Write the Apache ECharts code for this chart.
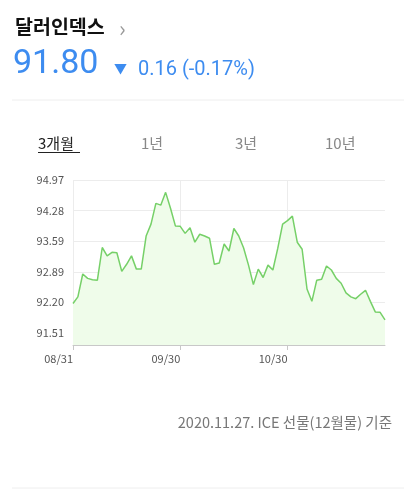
<!DOCTYPE html>
<html>
<head>
<meta charset="utf-8">
<script src="https://cdn.jsdelivr.net/npm/echarts@6/dist/echarts.min.js"></script>
<style>
html,body{margin:0;padding:0;background:#fff;}
#c{width:404px;height:495px;}
</style>
</head>
<body>
<div id="c"></div>
<script>
var dates = ['08/31','09/01','09/02','09/03','09/04','09/07','09/08','09/09','09/10','09/11',
  '09/14','09/15','09/16','09/17','09/18','09/21','09/22','09/23','09/24','09/25',
  '09/28','09/29','09/30','10/01','10/02','10/05','10/06','10/07','10/08','10/09',
  '10/12','10/13','10/14','10/15','10/16','10/19','10/20','10/21','10/22','10/23',
  '10/26','10/27','10/28','10/29','10/30','11/02','11/03','11/04','11/05','11/06',
  '11/09','11/10','11/11','11/12','11/13','11/16','11/17','11/18','11/19','11/20',
  '11/23','11/24','11/25','11/26','11/27'];
var values = [92.17,92.32,92.84,92.74,92.71,92.70,93.44,93.25,93.33,93.32,
  92.90,93.06,93.25,92.95,92.95,93.70,93.97,94.44,94.40,94.69,
  94.33,93.93,93.92,93.76,93.89,93.56,93.74,93.70,93.65,93.06,
  93.09,93.52,93.36,93.87,93.70,93.43,93.04,92.60,92.95,92.76,
  93.04,92.93,93.42,93.97,94.05,94.15,93.56,93.40,92.50,92.22,
  92.70,92.72,93.02,92.93,92.74,92.63,92.41,92.32,92.28,92.38,
  92.47,92.22,91.98,91.97,91.80];
var yTicks = [91.51,92.20,92.89,93.59,94.28,94.97];
var xLabels = ['08/31','09/30','10/30'];
var tabs = ['3개월','1년','3년','10년'];

var chart = echarts.init(document.getElementById('c'), null, {renderer:'canvas'});
function showX(i, v){ return xLabels.indexOf(v) >= 0; }
var kr = "'Noto Sans CJK KR', 'Noto Sans', sans-serif";
var tabX = [38,141,235,325];
var tabEls = tabs.map(function(t,i){
  return {type:'text', left:tabX[i], top:136, style:{text:t, font:'15px '+kr, fill: i===0?'#222':'#888'}};
});
chart.setOption({
  animation:false,
  grid:{left:73, right:19, top:180, bottom:150, containLabel:false},
  xAxis:{
    type:'category', data:dates, boundaryGap:false,
    axisLine:{lineStyle:{color:'#c8c8c8'}},
    axisTick:{show:true, interval:showX, length:5, lineStyle:{color:'#c8c8c8'}},
    axisLabel:{interval:showX, align:'right', margin:8, color:'#555', fontSize:11, fontFamily:kr},
    splitLine:{show:true, interval:showX, lineStyle:{color:'#ececec'}}
  },
  yAxis:{
    type:'value', min:91.23, max:94.97, scale:true,
    axisLine:{show:false},
    axisTick:{show:false, customValues:yTicks},
    axisLabel:{customValues:yTicks, color:'#555', fontSize:11, margin:9, fontFamily:kr,
      formatter:function(v){return v.toFixed(2);}},
    splitLine:{show:true, lineStyle:{color:'#ececec'}}
  },
  series:[{
    type:'line', data:values, showSymbol:false, smooth:false,
    lineStyle:{color:'#76d068', width:1.5},
    areaStyle:{color:'#effcea', origin:'start', opacity:1}
  }],
  graphic:[
    {type:'text', left:15, top:17, style:{text:'달러인덱스', font:'bold 19.5px '+kr, fill:'#111'}},
    {type:'text', left:119, top:18, style:{text:'›', font:'22px '+kr, fill:'#999'}},
    {type:'text', left:13, top:47, style:{text:'91.80', font:'34px Roboto, sans-serif', fill:'#3d8cf0'}},
    {type:'text', left:114, top:62, style:{text:'▼', font:'13px '+kr, fill:'#3d8cf0'}},
    {type:'text', left:138, top:60, style:{text:'0.16 (-0.17%)', font:'20px Roboto, sans-serif', fill:'#3d8cf0'}},
    {type:'line', shape:{x1:12, y1:100, x2:404, y2:100}, style:{stroke:'#eeeeee', lineWidth:1}},
    {type:'line', shape:{x1:38, y1:152.5, x2:80, y2:152.5}, style:{stroke:'#222', lineWidth:1}},
    {type:'text', right:12, top:415, style:{text:'2020.11.27. ICE 선물(12월물) 기준', font:'14.5px '+kr, fill:'#777'}},
    {type:'line', shape:{x1:12, y1:488, x2:404, y2:488}, style:{stroke:'#eeeeee', lineWidth:1}}
  ].concat(tabEls)
});
</script>
</body>
</html>
